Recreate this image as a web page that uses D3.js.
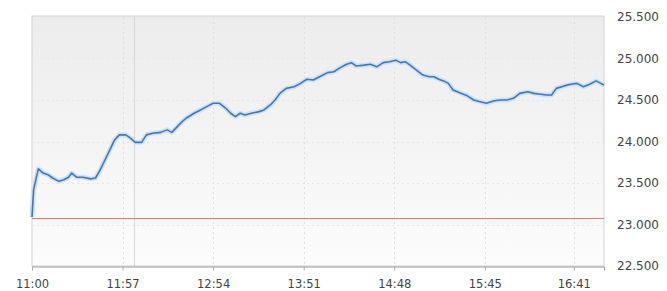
<!DOCTYPE html>
<html>
<head>
<meta charset="utf-8">
<script src="https://cdn.jsdelivr.net/npm/d3@7"></script>
<style>
    body { margin: 0; background: #fff; }
    svg { display: block; }
</style>
</head>
<body>
<div id="chart"></div>
<script>
// minutes after 11:00 and price at that minute
let minutes = [0, 1, 4, 7, 10, 13, 17, 20, 23, 25, 28, 32, 37, 40, 43, 46, 49, 52, 55, 59,
    62, 65, 69, 72, 76, 81, 85, 88, 91, 94, 97, 102, 106, 110, 114, 118, 122, 125, 128, 131,
    134, 138, 143, 146, 150, 153, 156, 160, 165, 169, 173, 177, 181, 186, 190, 194, 198, 201, 204, 209,
    213, 217, 221, 225, 229, 232, 235, 238, 242, 246, 250, 253, 256, 259, 262, 265, 270, 274, 278, 282,
    286, 291, 295, 299, 303, 307, 312, 316, 320, 324, 327, 330, 335, 339, 343, 347, 351, 355, 358, 360];
let prices = [23.09, 23.42, 23.67, 23.62, 23.60, 23.56, 23.52, 23.54, 23.57, 23.62, 23.57, 23.57, 23.55, 23.56, 23.66, 23.78, 23.90, 24.02, 24.08, 24.08,
    24.04, 23.99, 23.99, 24.08, 24.10, 24.11, 24.14, 24.11, 24.17, 24.23, 24.28, 24.34, 24.38, 24.42, 24.46, 24.46, 24.40, 24.34, 24.30, 24.34,
    24.32, 24.34, 24.36, 24.38, 24.44, 24.50, 24.58, 24.64, 24.66, 24.70, 24.75, 24.74, 24.78, 24.83, 24.84, 24.89, 24.93, 24.95, 24.91, 24.92,
    24.93, 24.90, 24.95, 24.96, 24.98, 24.95, 24.96, 24.92, 24.86, 24.80, 24.78, 24.78, 24.75, 24.73, 24.70, 24.62, 24.58, 24.55, 24.50, 24.48,
    24.46, 24.49, 24.50, 24.50, 24.52, 24.58, 24.60, 24.58, 24.57, 24.56, 24.56, 24.64, 24.67, 24.69, 24.70, 24.66, 24.69, 24.73, 24.70, 24.68];

let prevClose = 23.08;
let sessionMark = 64; // second vertical marker just after 11:57

let timeTicks = [0, 57, 114, 171, 228, 285, 341];
let timeLabels = ["11:00", "11:57", "12:54", "13:51", "14:48", "15:45", "16:41"];
let priceTicks = [22.5, 23.0, 23.5, 24.0, 24.5, 25.0, 25.5];

let width = 667, height = 291;
let plot = {left: 32, right: 604, top: 17, bottom: 266};

let x = d3.scaleLinear().domain([0, 360]).range([plot.left, plot.right]);
let y = d3.scaleLinear().domain([22.5, 25.5]).range([plot.bottom, plot.top]);

let svg = d3.select("#chart")
    .append("svg")
    .attr("width", width)
    .attr("height", height);

let grad = svg.append("defs").append("linearGradient")
    .attr("id", "bg")
    .attr("x1", 0).attr("y1", 0).attr("x2", 0).attr("y2", 1);
grad.append("stop").attr("offset", "0%").attr("stop-color", "#ececec");
grad.append("stop").attr("offset", "100%").attr("stop-color", "#fcfcfc");

svg.append("rect")
    .attr("x", plot.left)
    .attr("y", plot.top - 1)
    .attr("width", plot.right - plot.left)
    .attr("height", plot.bottom - plot.top + 1)
    .attr("fill", "url(#bg)")
    .attr("stroke", "#d4d4d4");

// horizontal grid
svg.append("g")
    .selectAll("line")
    .data(priceTicks.slice(1, -1))
    .enter()
    .append("line")
    .attr("x1", plot.left).attr("x2", plot.right)
    .attr("y1", function(d) { return Math.round(y(d)) + 0.5; })
    .attr("y2", function(d) { return Math.round(y(d)) + 0.5; })
    .attr("stroke", "#e8e8e8")
    .attr("stroke-dasharray", "2,3");

// vertical grid
svg.append("g")
    .selectAll("line")
    .data(timeTicks.slice(1))
    .enter()
    .append("line")
    .attr("x1", function(d) { return Math.round(x(d)) + 0.5; })
    .attr("x2", function(d) { return Math.round(x(d)) + 0.5; })
    .attr("y1", plot.top).attr("y2", plot.bottom)
    .attr("stroke", "#e0e0e0")
    .attr("stroke-dasharray", "2,3");

svg.append("line")
    .attr("x1", Math.round(x(sessionMark)) + 0.5)
    .attr("x2", Math.round(x(sessionMark)) + 0.5)
    .attr("y1", plot.top).attr("y2", plot.bottom)
    .attr("stroke", "#d6d6d6");

// previous close
svg.append("line")
    .attr("x1", plot.left).attr("x2", plot.right)
    .attr("y1", Math.round(y(prevClose)) + 0.5)
    .attr("y2", Math.round(y(prevClose)) + 0.5)
    .attr("stroke", "#e07a7a");

let line = d3.line()
    .x(function(d) { return x(d[0]); })
    .y(function(d) { return y(d[1]); });
let pts = d3.zip(minutes, prices);

svg.append("path")
    .attr("d", line(pts))
    .attr("fill", "none")
    .attr("stroke", "#cfe2f6")
    .attr("stroke-width", 5)
    .attr("stroke-linejoin", "round");
svg.append("path")
    .attr("d", line(pts))
    .attr("fill", "none")
    .attr("stroke", "#4676b2")
    .attr("stroke-width", 1.6)
    .attr("stroke-linejoin", "round");

// bottom axis
let xAxis = svg.append("g")
    .attr("transform", "translate(0," + (plot.bottom + 0.5) + ")")
    .call(d3.axisBottom(x)
        .tickValues(timeTicks)
        .tickSize(4)
        .tickFormat(function(d, i) { return timeLabels[i]; }));
xAxis.select(".domain").attr("stroke", "#999");
xAxis.selectAll(".tick line").attr("stroke", "#aaa");
xAxis.selectAll("text")
    .attr("y", 13)
    .attr("fill", "#444")
    .attr("font-family", "DejaVu Sans")
    .attr("font-size", 11.5);

// price labels on the right
svg.append("g")
    .selectAll("text")
    .data(priceTicks)
    .enter()
    .append("text")
    .attr("x", 617)
    .attr("y", function(d) { return y(d); })
    .attr("dy", "0.35em")
    .attr("fill", "#444")
    .attr("font-family", "DejaVu Sans")
    .attr("font-size", 12)
    .text(function(d) { return d3.format(".3f")(d); });
</script>
</body>
</html>
